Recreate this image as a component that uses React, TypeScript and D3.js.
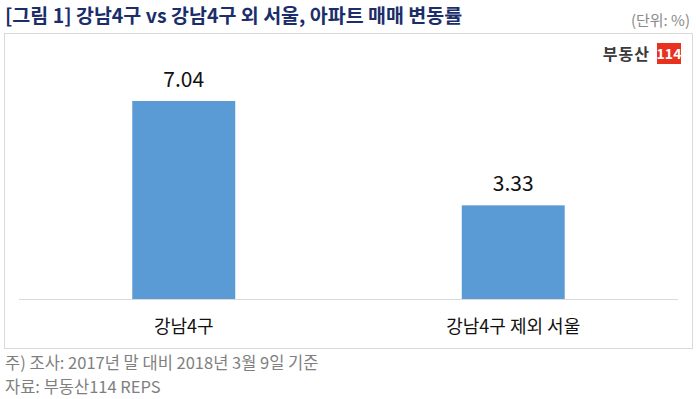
import { useEffect, useRef } from "react";
import * as d3 from "d3";

const categories = ["강남4구", "강남4구 제외 서울"];
const values = [7.04, 3.33];
const title = "[그림 1] 강남4구 vs 강남4구 외 서울, 아파트 매매 변동률";
const unitLabel = "(단위: %)";
const notes = ["주) 조사: 2017년 말 대비 2018년 3월 9일 기준", "자료: 부동산114 REPS"];

const FONT = "'Noto Sans CJK KR', 'Noto Sans', sans-serif";

export default function App() {
    const ref = useRef<SVGSVGElement>(null);

    useEffect(() => {
        const svg = d3.select(ref.current);
        svg.selectAll("*").remove();

        const width = 696, height = 399;
        const margin = { left: 19, right: 18, base: 299, top: 74 };

        // title and unit
        svg.append("text")
            .attr("x", 5).attr("y", 23)
            .attr("font-size", 19.5).attr("font-weight", "bold")
            .attr("fill", "#1b2e6a")
            .text(title);
        svg.append("text")
            .attr("x", 690).attr("y", 26)
            .attr("text-anchor", "end")
            .attr("font-size", 15).attr("fill", "#8a8a8a")
            .text(unitLabel);

        // chart frame
        svg.append("rect")
            .attr("x", 4.5).attr("y", 33.5)
            .attr("width", 688).attr("height", 315)
            .attr("fill", "white").attr("stroke", "#d9d9d9");

        // logo
        svg.append("text")
            .attr("x", 650).attr("y", 60)
            .attr("text-anchor", "end")
            .attr("font-size", 16).attr("font-weight", "bold")
            .attr("letter-spacing", 1)
            .attr("fill", "#3a3a3a")
            .text("부동산");
        svg.append("rect")
            .attr("x", 657).attr("y", 43)
            .attr("width", 24).attr("height", 21)
            .attr("fill", "#e8311f");
        svg.append("text")
            .attr("x", 669).attr("y", 59)
            .attr("text-anchor", "middle")
            .attr("font-size", 14).attr("font-weight", "bold")
            .attr("fill", "white")
            .text("114");

        const x = d3.scaleBand()
            .domain(categories)
            .range([margin.left, width - margin.right]);

        const y = d3.scaleLinear()
            .domain([0, 8])
            .range([margin.base, margin.top]);

        const barW = x.bandwidth() * 0.3125;

        svg.append("g")
            .selectAll("rect")
            .data(categories)
            .join("rect")
            .attr("x", (d) => x(d)! + (x.bandwidth() - barW) / 2)
            .attr("y", (d, i) => y(values[i]))
            .attr("width", barW)
            .attr("height", (d, i) => y(0) - y(values[i]))
            .attr("fill", "#5b9bd5");

        // value labels
        svg.append("g")
            .selectAll("text")
            .data(categories)
            .join("text")
            .attr("x", (d) => x(d)! + x.bandwidth() / 2)
            .attr("y", (d, i) => y(values[i]) - 14)
            .attr("text-anchor", "middle")
            .attr("font-size", 21)
            .attr("fill", "#111")
            .text((d, i) => values[i].toFixed(2));

        // baseline
        svg.append("line")
            .attr("x1", margin.left).attr("x2", width - margin.right)
            .attr("y1", margin.base + 0.5).attr("y2", margin.base + 0.5)
            .attr("stroke", "#d9d9d9");

        // category labels
        svg.append("g")
            .selectAll("text")
            .data(categories)
            .join("text")
            .attr("x", (d) => x(d)! + x.bandwidth() / 2)
            .attr("y", 333)
            .attr("text-anchor", "middle")
            .attr("font-size", 18)
            .attr("fill", "#111")
            .text((d) => d);

        // notes
        svg.append("g")
            .selectAll("text")
            .data(notes)
            .join("text")
            .attr("x", 5)
            .attr("y", (d, i) => 369 + i * 24)
            .attr("font-size", 16.5)
            .attr("fill", "#7f7f7f")
            .text((d) => d);
    }, []);

    return (
        <svg ref={ref} width={696} height={399}
            style={{ position: "absolute", left: 0, top: 0, fontFamily: FONT, background: "white" }} />
    );
}
